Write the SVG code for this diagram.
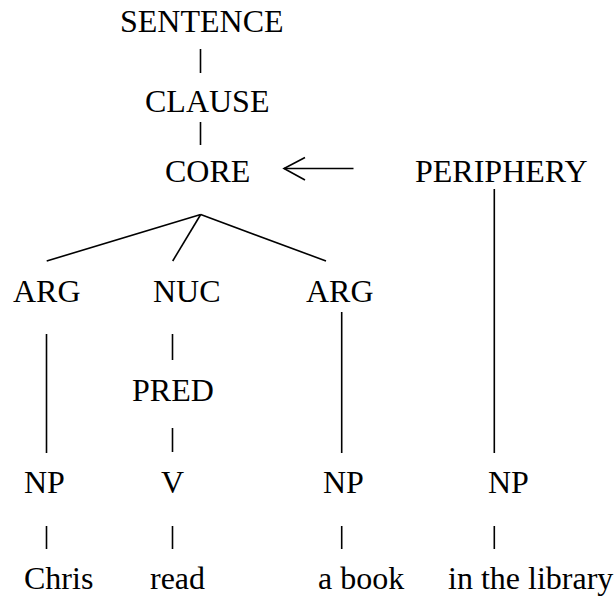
<svg xmlns="http://www.w3.org/2000/svg" width="616" height="599" viewBox="0 0 616 599">
<style>
text{font-family:"Liberation Serif","Times New Roman",serif;font-size:32px;fill:#000}
.e{stroke:#000;stroke-width:1.6;fill:none;stroke-linecap:butt}
</style>
<rect width="616" height="599" fill="#fff"/>
<g id="connectors">
<line class="e" x1="200.5" y1="49" x2="200.5" y2="73"/>
<line class="e" x1="200.5" y1="122" x2="200.5" y2="145"/>
<line class="e" x1="353.5" y1="168.5" x2="284" y2="168.5"/>
<polyline class="e" points="305,157.5 284,168.5 305,180"/>
<line class="e" x1="200.7" y1="214.5" x2="46.7" y2="261"/>
<line class="e" x1="200.7" y1="214.5" x2="172.7" y2="261"/>
<line class="e" x1="200.7" y1="214.5" x2="326" y2="261"/>
<line class="e" x1="494.3" y1="189" x2="494.3" y2="453"/>
<line class="e" x1="46.5" y1="334" x2="46.5" y2="453"/>
<line class="e" x1="172.5" y1="334" x2="172.5" y2="360"/>
<line class="e" x1="172.5" y1="428" x2="172.5" y2="452"/>
<line class="e" x1="341.7" y1="312" x2="341.7" y2="453"/>
<line class="e" x1="46.5" y1="526" x2="46.5" y2="549"/>
<line class="e" x1="172.5" y1="526" x2="172.5" y2="549"/>
<line class="e" x1="341.7" y1="526" x2="341.7" y2="549"/>
<line class="e" x1="494.3" y1="526" x2="494.3" y2="549"/>
</g>
<g id="sentence"><text x="120" y="32">SENTENCE</text></g>
<g id="clause"><text x="145" y="112">CLAUSE</text></g>
<g id="core"><text x="165" y="182">CORE</text></g>
<g id="periphery"><text x="415" y="182">PERIPHERY</text></g>
<g id="arg1"><text x="13" y="302">ARG</text></g>
<g id="nuc"><text x="153" y="302">NUC</text></g>
<g id="arg2"><text x="306" y="302">ARG</text></g>
<g id="pred"><text x="132" y="401">PRED</text></g>
<g id="np1"><text x="24" y="493">NP</text></g>
<g id="v"><text x="161" y="493">V</text></g>
<g id="np2"><text x="323" y="493">NP</text></g>
<g id="np3"><text x="488" y="493">NP</text></g>
<g id="chris"><text x="24" y="589">Chris</text></g>
<g id="read"><text x="150" y="589">read</text></g>
<g id="abook"><text x="318" y="589">a book</text></g>
<g id="library"><text x="448" y="589">in the library</text></g>
</svg>
